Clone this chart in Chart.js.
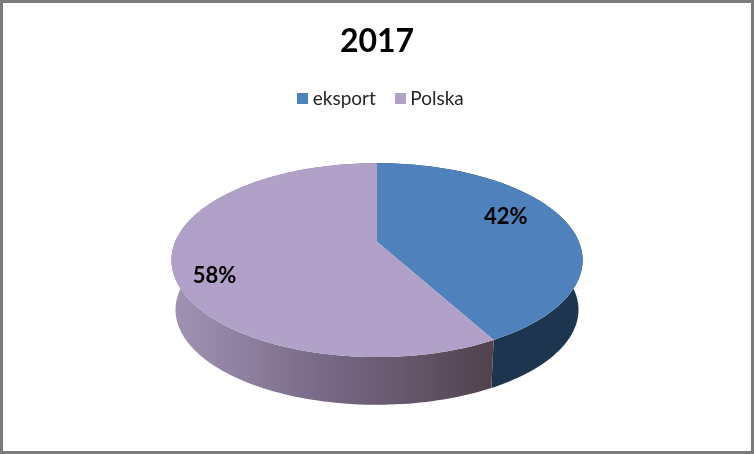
<!DOCTYPE html>
<html>
<head>
<meta charset="utf-8">
<title>2017</title>
<script src="https://cdn.jsdelivr.net/npm/chart.js@4"></script>
<style>
  html, body { margin: 0; padding: 0; background: #fff; }
  #wrap { position: relative; width: 754px; height: 454px; box-sizing: border-box; border: 3px solid #7b7b7b; overflow: hidden; }
  #chart { position: absolute; left: -3px; top: -3px; }
</style>
</head>
<body>
<div id="wrap"><canvas id="chart" width="754" height="454"></canvas></div>
<script>
const chartTitle = "2017";
const categories = ["eksport", "Polska"];
const values = [42, 58];
const topColors = ["#4f81bd", "#b1a0c7"];

// look of the tilted pie: perspective, size relative to the library's radius, wall
const perspective = 0.19;
const scaleX = 203 / 124;
const scaleY = 94 / 124;
const wallShrink = 0.98;
const wallDrop = 50;
// where the percent sits: fraction of the radius, then a nudge
const labelRadius = [0.68, 0.8];
const labelNudge = [-9, 15];
const legendShift = 6;

// angle is measured the way the arc element has it, 0 = 3 o'clock
function project(arc, angle, r) {
  const x = Math.cos(angle) * r;
  const y = Math.sin(angle) * r;
  const w = 1 - perspective * y;
  return {
    x: arc.x + (x / w) * arc.outerRadius * scaleX,
    y: arc.y + (y / w) * arc.outerRadius * scaleY
  };
}

function rimPoints(arc) {
  const steps = Math.ceil((arc.endAngle - arc.startAngle) * 40);
  const pts = [];
  for (let i = 0; i <= steps; i++) {
    pts.push(project(arc, arc.startAngle + (arc.endAngle - arc.startAngle) * i / steps, 1));
  }
  return pts;
}

function wallFill(ctx, arc, index) {
  if (index === 0) return "#1e3550";
  const g = ctx.createLinearGradient(arc.x - 205, 0, arc.x + 112, 0);
  g.addColorStop(0, "#a193b3");
  g.addColorStop(0.5, "#766884");
  g.addColorStop(1, "#52434f");
  return g;
}

// legend swatch as a small canvas so the text can sit closer to it
function swatch(color) {
  const c = document.createElement("canvas");
  c.width = 11;
  c.height = 11;
  const g = c.getContext("2d");
  g.fillStyle = color;
  g.fillRect(0, 0, 11, 11);
  return c;
}

const pie3d = {
  id: "pie3d",
  afterLayout(chart) {
    chart.legend.left += legendShift;
    chart.legend.right += legendShift;
  },
  beforeDatasetsDraw(chart) {
    const ctx = chart.ctx;
    const arcs = chart.getDatasetMeta(0).data;
    ctx.save();
    // walls first, the top surface hides the back of them
    arcs.forEach((arc, i) => {
      const pts = rimPoints(arc);
      ctx.beginPath();
      pts.forEach((p, n) => n ? ctx.lineTo(p.x, p.y) : ctx.moveTo(p.x, p.y));
      pts.slice().reverse().forEach(p => {
        ctx.lineTo(arc.x + (p.x - arc.x) * wallShrink, arc.y + (p.y - arc.y) * wallShrink + wallDrop);
      });
      ctx.closePath();
      ctx.fillStyle = wallFill(ctx, arc, i);
      ctx.fill();
    });
    arcs.forEach((arc, i) => {
      const pts = rimPoints(arc);
      ctx.beginPath();
      ctx.moveTo(arc.x, arc.y);
      pts.forEach(p => ctx.lineTo(p.x, p.y));
      ctx.closePath();
      ctx.fillStyle = topColors[i];
      ctx.fill();
    });
    ctx.fillStyle = "#000";
    ctx.font = "bold 22px Lato";
    ctx.textAlign = "center";
    ctx.textBaseline = "middle";
    arcs.forEach((arc, i) => {
      const p = project(arc, (arc.startAngle + arc.endAngle) / 2, labelRadius[i]);
      ctx.fillText(values[i] + "%", p.x, p.y + labelNudge[i]);
    });
    ctx.restore();
    return false;
  }
};

new Chart(document.getElementById("chart"), {
  type: "pie",
  data: {
    labels: categories,
    datasets: [{ data: values, backgroundColor: topColors, borderWidth: 0 }]
  },
  options: {
    responsive: false,
    animation: false,
    layout: { padding: { bottom: 89 } },
    plugins: {
      tooltip: { enabled: false },
      title: {
        display: true,
        text: chartTitle,
        color: "#000",
        font: { family: "Lato", size: 32, weight: "bold" },
        padding: { top: 22, bottom: 5 }
      },
      legend: {
        position: "top",
        labels: {
          color: "#262626",
          font: { family: "Lato", size: 19 },
          usePointStyle: true,
          boxWidth: 1,
          boxHeight: 11,
          padding: 24,
          generateLabels: () => categories.map((text, i) => ({
            text,
            fontColor: "#262626",
            pointStyle: swatch(topColors[i]),
            index: i
          }))
        }
      }
    }
  },
  plugins: [pie3d]
});
</script>
</body>
</html>
